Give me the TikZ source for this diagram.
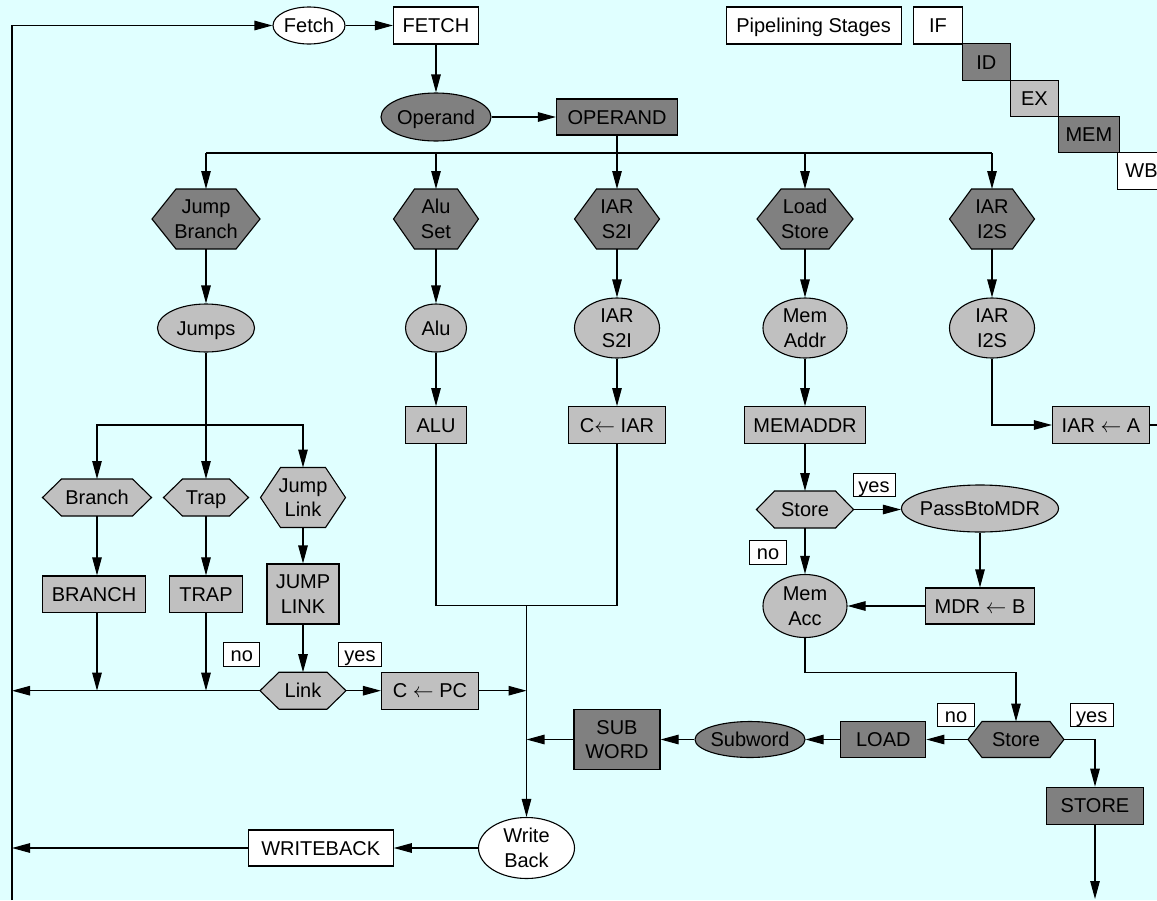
\documentclass[tikz,border=0pt]{standalone}
\usepackage{fontspec}
\setmainfont{Liberation Sans}
\usetikzlibrary{arrows.meta,shapes.geometric,calc}
\definecolor{bgc}{HTML}{E0FFFF}
\definecolor{gdark}{HTML}{808080}
\definecolor{glight}{HTML}{C0C0C0}
\pgfdeclarelayer{back}
\pgfdeclarelayer{mid}
\pgfsetlayers{back,mid,main}
\newcommand\tx[1]{\smash{\makebox[0pt]{\raisebox{-7.4pt}{\begin{tabular}{@{}c@{}}#1\end{tabular}}}}}
\newcommand\hexo[3]{\begin{pgfonlayer}{mid}\draw[line width=1.1pt,fill=#3] (#1.west) -- ([xshift=#2pt]#1.north west) -- ([xshift=-#2pt]#1.north east) -- (#1.east) -- ([xshift=-#2pt]#1.south east) -- ([xshift=#2pt]#1.south west) -- cycle;\end{pgfonlayer}}
\tikzset{
  sz/.style 2 args={minimum width=#1pt, minimum height=#2pt},
  box/.style={draw, rectangle, line width=1.1pt, inner sep=0pt},
  ell/.style={draw, ellipse, line width=1.1pt, inner sep=0pt},
  hexn/.style={rectangle, inner sep=0pt, outer sep=0pt},
  lbl/.style={draw, rectangle, line width=0.9pt, inner sep=0pt, fill=white},
  conn/.style={line width=1.1pt},
  arr/.style={line width=1.1pt, -{Triangle[length=18pt,width=9.5pt]}}
}
\begin{document}
\begin{tikzpicture}[x=1pt,y=-1pt,font=\fontsize{20}{24.5}\selectfont]
\useasboundingbox (0,0) rectangle (1157,900);
\begin{pgfonlayer}{back}
\fill[bgc] (0,0) rectangle (1157,900);
\end{pgfonlayer}
\clip (0,0) rectangle (1157,900);

% top row
\node[ell, fill=white, sz={72}{37}] (fetchE) at (309,25.5) {\tx{Fetch}};
\node[box, fill=white, sz={85}{37}] (fetchB) at (436,25.5) {\tx{FETCH}};
\node[ell, fill=gdark, sz={110}{48}] (operandE) at (436,117) {\tx{Operand}};
\node[box, fill=gdark, sz={121}{36}] (operandB) at (617,117) {\tx{OPERAND}};

% pipelining legend
\node[box, fill=white, sz={175}{37}] (pipeB) at (813.6,25.5) {\tx{Pipelining Stages}};
\node[box, fill=white, sz={48.6}{37}] (ifB) at (937.9,25.5) {\tx{IF}};
\node[box, fill=gdark, sz={48.2}{36.3}] (idB) at (986.3,61.9) {\tx{ID}};
\node[box, fill=glight, sz={48.1}{36.3}] (exB) at (1034.45,98.2) {\tx{EX}};
\node[box, fill=gdark, sz={60.8}{36}] (memB) at (1088.9,134.3) {\tx{MEM}};
\node[box, fill=white, sz={48.2}{36.7}] (wbB) at (1141.5,170.7) {\tx{WB}};

% instruction class hexagons
\node[hexn, sz={108}{60}] (jbH) at (206,219) {\tx{Jump\\Branch}}; \hexo{jbH}{24}{gdark}
\node[hexn, sz={85}{60}] (asH) at (436,219) {\tx{Alu\\Set}}; \hexo{asH}{21}{gdark}
\node[hexn, sz={85}{60}] (s2iH) at (617,219) {\tx{IAR\\S2I}}; \hexo{s2iH}{22}{gdark}
\node[hexn, sz={96}{60}] (lsH) at (805,219) {\tx{Load\\Store}}; \hexo{lsH}{24}{gdark}
\node[hexn, sz={85}{60}] (i2sH) at (992,219) {\tx{IAR\\I2S}}; \hexo{i2sH}{22}{gdark}

% second level ellipses
\node[ell, fill=glight, sz={97}{48}] (jumpsE) at (206,328) {\tx{Jumps}};
\node[ell, fill=glight, sz={61}{48}] (aluE) at (436,328) {\tx{Alu}};
\node[ell, fill=glight, sz={85}{60}] (s2iE) at (617,328) {\tx{IAR\\S2I}};
\node[ell, fill=glight, sz={84}{60}] (memaddrE) at (805,328) {\tx{Mem\\Addr}};
\node[ell, fill=glight, sz={85}{60}] (i2sE) at (992,328) {\tx{IAR\\I2S}};

% third level boxes
\node[box, fill=glight, sz={61}{36.6}] (aluB) at (436,425) {\tx{ALU}};
\node[box, fill=glight, sz={97}{36.6}] (ciarB) at (617,425) {\tx{C$\leftarrow$ IAR}};
\node[box, fill=glight, sz={121}{36.6}] (memaddrB) at (805,425) {\tx{MEMADDR}};
\node[box, fill=glight, sz={97}{36.6}] (iarAB) at (1101,425) {\tx{IAR $\leftarrow$ A}};

% jumps branch
\node[hexn, sz={109}{37}] (brH) at (97,497.5) {\tx{Branch}}; \hexo{brH}{19}{glight}
\node[hexn, sz={85}{37}] (trH) at (206,497.5) {\tx{Trap}}; \hexo{trH}{19}{glight}
\node[hexn, sz={85}{60}] (jlH) at (303,497.5) {\tx{Jump\\Link}}; \hexo{jlH}{20}{glight}
\node[box, fill=glight, sz={103}{36.7}] (branchB) at (94,594.3) {\tx{BRANCH}};
\node[box, fill=glight, sz={73}{36.7}] (trapB) at (206,594.3) {\tx{TRAP}};
\node[box, fill=glight, sz={72}{60}] (jlB) at (303,594) {\tx{JUMP\\LINK}};
\node[hexn, sz={86}{37}] (linkH) at (303,690.7) {\tx{Link}}; \hexo{linkH}{19}{glight}
\node[box, fill=glight, sz={97}{37}] (cpcB) at (430,690.7) {\tx{C $\leftarrow$ PC}};

% load/store branch
\node[hexn, sz={97}{37}] (st1H) at (805,509.5) {\tx{Store}}; \hexo{st1H}{18}{glight}
\node[ell, fill=glight, sz={157}{47}] (passE) at (980,508.5) {\tx{PassBtoMDR}};
\node[box, fill=glight, sz={109}{36}] (mdrB) at (980,606) {\tx{MDR $\leftarrow$ B}};
\node[ell, fill=glight, sz={84}{63}] (memaccE) at (805,606) {\tx{Mem\\Acc}};
\node[hexn, sz={96}{36}] (st2H) at (1016,739.5) {\tx{Store}}; \hexo{st2H}{14}{gdark}
\node[box, fill=gdark, sz={85}{36}] (loadB) at (883.3,739.5) {\tx{LOAD}};
\node[ell, fill=gdark, sz={110}{36}] (subwordE) at (750,739.5) {\tx{Subword}};
\node[box, fill=gdark, sz={86}{60}] (subwordB) at (617,739.5) {\tx{SUB\\WORD}};
\node[box, fill=gdark, sz={97}{37}] (storeB) at (1095,805.7) {\tx{STORE}};

% write back
\node[ell, fill=white, sz={96}{61}] (wbE) at (526.5,848) {\tx{Write\\Back}};
\node[box, fill=white, sz={145}{36}] (writebackB) at (320.7,848) {\tx{WRITEBACK}};

% yes / no labels
\node[lbl, sz={36}{24}] (no1) at (241.8,654.5) {\tx{no}};
\node[lbl, sz={43}{24}] (yes1) at (360,654.5) {\tx{yes}};
\node[lbl, sz={42}{23}] (yes2) at (874,485) {\tx{yes}};
\node[lbl, sz={37}{24}] (no2) at (768,552.5) {\tx{no}};
\node[lbl, sz={37}{23}] (no3) at (956,715) {\tx{no}};
\node[lbl, sz={43}{23}] (yes3) at (1091.7,715) {\tx{yes}};

% helper coordinates
\coordinate (lb) at (12,900);
\coordinate (bus) at (0,153);
\coordinate (bus2) at (0,425);
\coordinate (join) at (526.5,605.7);
\coordinate (midy) at (0,672.7);
\coordinate (offR) at (1170,425);
\coordinate (offB) at (1095,899);

% connectors
\draw[arr] (lb) |- (fetchE.west);
\draw[arr] (fetchE.east) -- (fetchB.west);
\draw[arr] (fetchB) -- (operandE);
\draw[arr] (operandE.east) -- (operandE.east -| operandB.west);
\draw[conn] (operandB.south) -- (operandB.south |- bus);
\draw[conn] (jbH.north |- bus) -- (i2sH.north |- bus);
\foreach \n in {jbH,asH,s2iH,lsH,i2sH} \draw[arr] (\n.north |- bus) -- (\n.north);
\draw[arr] (jbH) -- (jumpsE);
\draw[arr] (asH) -- (aluE);
\draw[arr] (s2iH) -- (s2iE);
\draw[arr] (lsH) -- (memaddrE);
\draw[arr] (i2sH) -- (i2sE);
\draw[arr] (aluE) -- (aluB);
\draw[arr] (s2iE) -- (ciarB);
\draw[arr] (memaddrE) -- (memaddrB);
\draw[arr] (i2sE.south) |- (iarAB.west);
\draw[conn] (iarAB.east) -- (offR);

\draw[arr] (jumpsE) -- (trH);
\draw[arr] (jumpsE.south |- bus2) -| (brH.north);
\draw[arr] (jumpsE.south |- bus2) -| (jlH.north);
\draw[arr] (brH.south) -- (brH.south |- branchB.north);
\draw[arr] (trH) -- (trapB);
\draw[arr] (jlH) -- (jlB);
\draw[arr] (brH.south |- branchB.south) -- (brH.south |- linkH.west);
\draw[arr] (trapB.south) -- (trapB.south |- linkH.west);
\draw[arr] (jlB) -- (linkH);
\draw[arr] (linkH.west) -- (linkH.west -| lb);
\draw[arr] (linkH.east) -- (cpcB.west);
\draw[arr] (cpcB.east) -- (cpcB.east -| join);

\draw[conn] (aluB.south) |- (join) -| (ciarB.south);
\draw[arr] (join) -- (wbE.north);
\draw[arr] (subwordB.west) -- (subwordB.west -| join);
\draw[arr] (wbE.west) -- (writebackB.east);
\draw[arr] (writebackB.west) -- (writebackB.west -| lb);

\draw[arr] (memaddrB) -- (st1H);
\draw[arr] (st1H.east) -- (st1H.east -| passE.west);
\draw[arr] (passE) -- (mdrB);
\draw[arr] (st1H) -- (memaccE);
\draw[arr] (mdrB) -- (memaccE);
\draw[arr] (memaccE.south) |- (st2H.north |- midy) -- (st2H.north);
\draw[arr] (st2H) -- (loadB);
\draw[arr] (loadB) -- (subwordE);
\draw[arr] (subwordE) -- (subwordB);
\draw[arr] (st2H.east) -| (storeB.north);
\draw[arr] (storeB) -- (offB);
\end{tikzpicture}
\end{document}
